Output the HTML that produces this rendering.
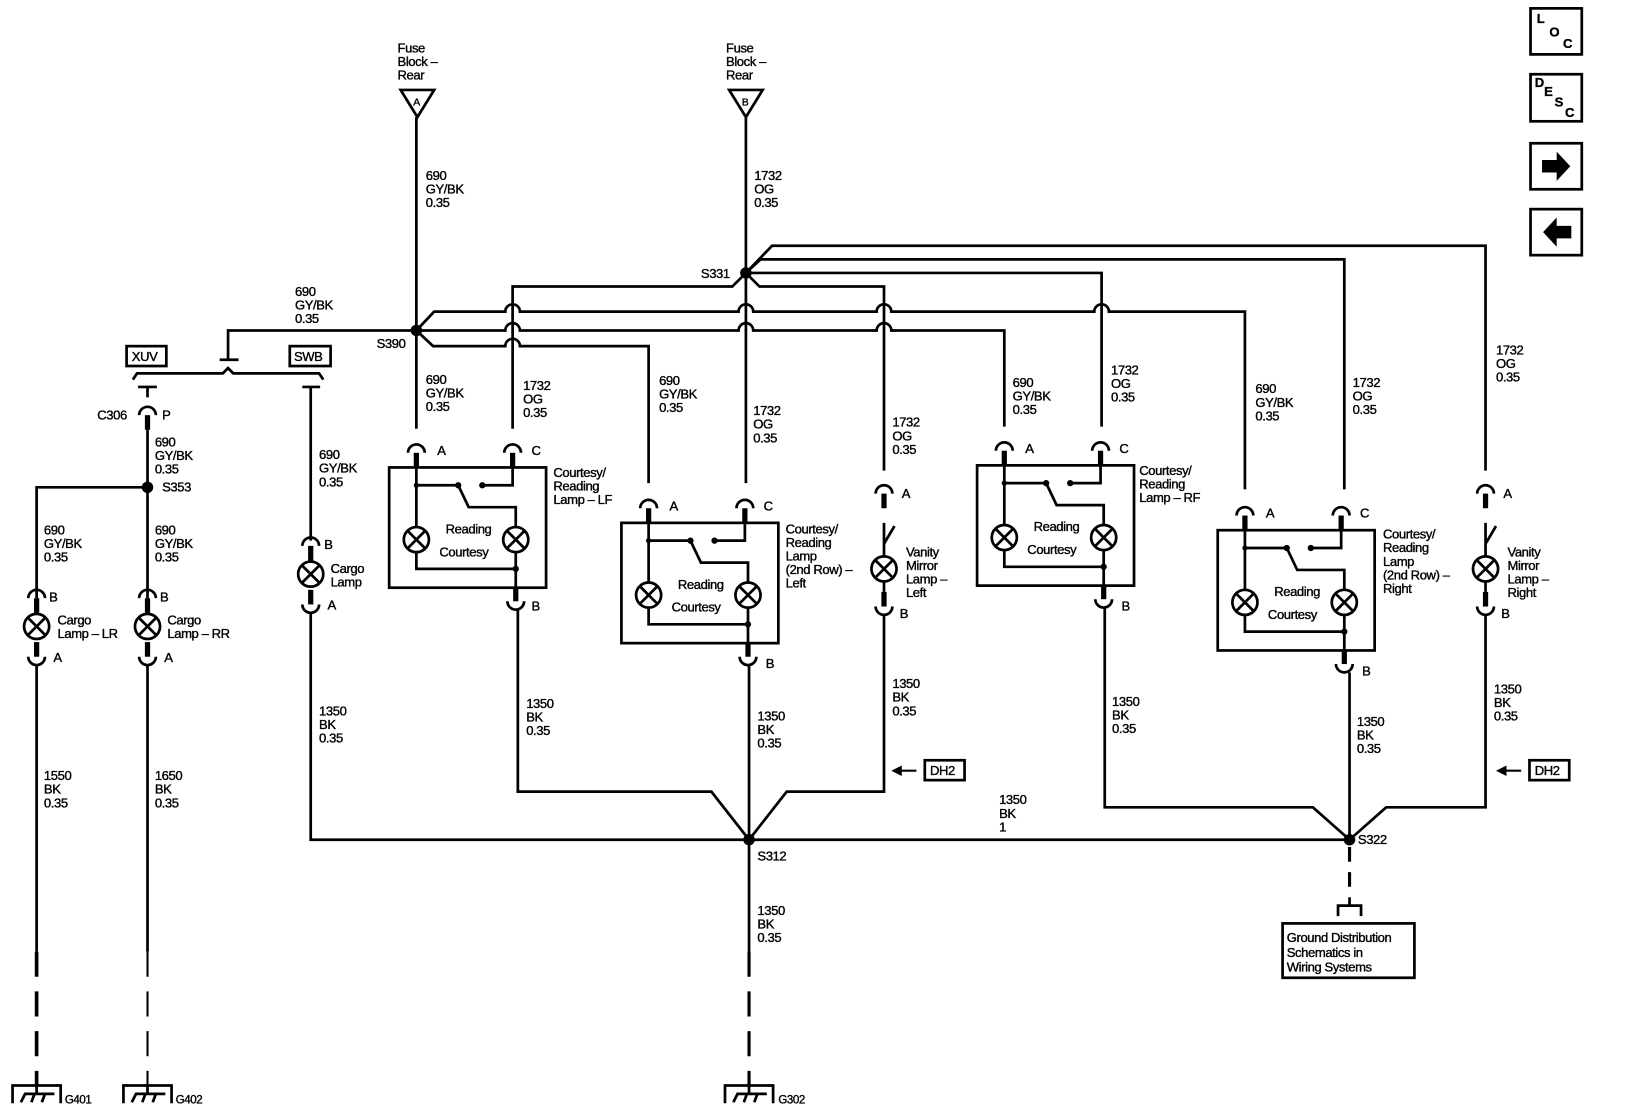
<!DOCTYPE html>
<html><head><meta charset="utf-8"><style>
html,body{margin:0;padding:0;background:#fff;}
svg{display:block;}
text{font-family:"Liberation Sans",Arial,sans-serif;font-size:12.5px;fill:#000;stroke:#000;stroke-width:0.35;letter-spacing:-0.4px;}
.w{fill:none;stroke:#000;stroke-width:2.6;}
.t{fill:none;stroke:#000;stroke-width:2;}
.s{stroke:#000;stroke-width:5;}
</style></head><body>
<svg width="1632" height="1120" viewBox="0 0 1560 1071" preserveAspectRatio="none" xmlns="http://www.w3.org/2000/svg">
<defs>
<g id="lamp"><circle r="12" fill="#fff" stroke="#000" stroke-width="2.6"/><path d="M-8.5 -8.5L8.5 8.5M8.5 -8.5L-8.5 8.5" stroke="#000" stroke-width="2.6"/></g>
<g id="fc"><path d="M-8 8 A8 8 0 0 1 8 8" class="w"/><line x1="0" y1="8" x2="0" y2="22" class="s"/></g>
<g id="mc"><line x1="0" y1="-14" x2="0" y2="0" class="s"/><path d="M-8 0 A8 8 0 0 0 8 0" class="w"/></g>
<g id="box">
<rect x="-26" y="0" width="150" height="115" class="w"/>
<use href="#fc" x="0" y="-22"/><use href="#fc" x="92" y="-22"/>
<path d="M0 0V57M0 81V97H95M0 17H40M40 17L50 38H95V57M95 81V115M63 17H92V0" class="w"/>
<circle cx="0" cy="17" r="2.5"/><circle cx="40" cy="17" r="3"/><circle cx="63" cy="17" r="3"/><circle cx="95" cy="97" r="3"/>
<use href="#lamp" x="0" y="69"/><use href="#lamp" x="95" y="69"/>
<use href="#mc" x="95" y="128"/>
</g>
</defs>

<!-- right icons -->
<rect x="1463" y="8" width="49" height="44" class="w"/>
<text x="1469" y="22" style="font-weight:bold">L</text><text x="1481" y="35" style="font-weight:bold">O</text><text x="1494" y="46" style="font-weight:bold">C</text>
<rect x="1463" y="71" width="49" height="45" class="w"/>
<text x="1467" y="83" style="font-weight:bold">D</text><text x="1476" y="92" style="font-weight:bold">E</text><text x="1486" y="102" style="font-weight:bold">S</text><text x="1496" y="112" style="font-weight:bold">C</text>
<rect x="1463" y="137" width="49" height="44" class="w"/>
<path d="M1474 153H1488V145L1501 159L1488 173V165H1474Z"/>
<rect x="1463" y="200" width="49" height="44" class="w"/>
<path d="M1502 216H1488V208L1475 222L1488 236V228H1502Z"/>

<!-- fuses -->
<text x="380" y="50">Fuse</text><text x="380" y="63">Block –</text><text x="380" y="76">Rear</text>
<path d="M383 86H415L399 112Z" class="w"/><text x="395" y="101" style="font-size:10px">A</text>
<text x="694" y="50">Fuse</text><text x="694" y="63">Block –</text><text x="694" y="76">Rear</text>
<path d="M697 86H729L713 112Z" class="w"/><text x="709" y="101" style="font-size:10px">B</text>

<!-- main verticals -->
<path d="M398 112V410M713 112V462" class="w"/>
<circle cx="398" cy="316" r="5.5"/><circle cx="713" cy="261" r="5.5"/>

<!-- S390 branches -->
<path d="M398 316L415 298H483A7 7 0 0 1 497 298H706A7 7 0 0 1 720 298H838A7 7 0 0 1 852 298H1046A7 7 0 0 1 1060 298H1190V468" class="w"/>
<path d="M398 316H483A7 7 0 0 1 497 316H706A7 7 0 0 1 720 316H838A7 7 0 0 1 852 316H960V408" class="w"/>
<path d="M398 316L414 331H483A7 7 0 0 1 497 331H620V462" class="w"/>
<path d="M398 316H218V344M210 344H228" class="w"/>
<!-- S331 branches -->
<path d="M713 261L738 235H1420V450" class="w"/>
<path d="M713 261L727 248H1285V468" class="w"/>
<path d="M713 261H1053V408" class="w"/>
<path d="M713 261L726 274H845V450" class="w"/>
<path d="M713 261L700 274H490V410" class="w"/>

<!-- XUV/SWB -->
<rect x="121" y="331" width="38" height="19" class="w"/><text x="126" y="345">XUV</text>
<rect x="277" y="331" width="39" height="19" class="w"/><text x="281" y="345">SWB</text>
<path d="M127 363L131 357H213L218 352L223 357H305L309 363" class="w"/>
<path d="M132 370H150M141 370V380M289 370H306M297 370V517" class="w"/>
<use href="#fc" x="141" y="389"/>
<text x="93" y="401">C306</text><text x="155" y="401">P</text>
<path d="M141 411V572" class="w"/>
<circle cx="141" cy="466" r="5.5"/><text x="155" y="470">S353</text>
<path d="M141 466H35V572" class="w"/>

<!-- Cargo lamps -->
<use href="#fc" x="35" y="564"/><use href="#lamp" x="35" y="599"/><use href="#mc" x="35" y="628"/>
<text x="47" y="575">B</text><text x="51" y="633">A</text>
<text x="55" y="597">Cargo</text><text x="55" y="610">Lamp – LR</text>
<use href="#fc" x="141" y="564"/><use href="#lamp" x="141" y="599"/><use href="#mc" x="141" y="628"/>
<text x="153" y="575">B</text><text x="157" y="633">A</text>
<text x="160" y="597">Cargo</text><text x="160" y="610">Lamp – RR</text>
<use href="#fc" x="297" y="514"/><use href="#lamp" x="297" y="549"/><use href="#mc" x="297" y="578"/>
<text x="310" y="525">B</text><text x="313" y="583">A</text>
<text x="316" y="548">Cargo</text><text x="316" y="561">Lamp</text>

<path d="M35 636V910M141 636V910" class="w"/>
<path d="M35 910V1037" stroke="#000" stroke-width="3.5" stroke-dasharray="24 14"/>
<path d="M141 910V1037" stroke="#000" stroke-width="2" stroke-dasharray="24 14"/>

<!-- boxes -->
<g transform="translate(398 447)"><use href="#box"/><text x="28" y="63">Reading</text><text x="22" y="85">Courtesy</text><text x="20" y="-12">A</text><text x="110" y="-12">C</text><text x="110" y="137">B</text></g>
<g transform="translate(620 500)"><use href="#box"/><text x="28" y="63">Reading</text><text x="22" y="85">Courtesy</text><text x="20" y="-12">A</text><text x="110" y="-12">C</text><text x="112" y="139">B</text></g>
<g transform="translate(960 445)"><use href="#box"/><text x="28" y="63">Reading</text><text x="22" y="85">Courtesy</text><text x="20" y="-12">A</text><text x="110" y="-12">C</text><text x="112" y="139">B</text></g>
<g transform="translate(1190 507)"><use href="#box"/><text x="28" y="63">Reading</text><text x="22" y="85">Courtesy</text><text x="20" y="-12">A</text><text x="110" y="-12">C</text><text x="112" y="139">B</text></g>

<text x="529" y="456">Courtesy/</text><text x="529" y="469">Reading</text><text x="529" y="482">Lamp – LF</text>
<text x="751" y="510">Courtesy/</text><text x="751" y="523">Reading</text><text x="751" y="536">Lamp</text><text x="751" y="549">(2nd Row) –</text><text x="751" y="562">Left</text>
<text x="1089" y="454">Courtesy/</text><text x="1089" y="467">Reading</text><text x="1089" y="480">Lamp – RF</text>
<text x="1322" y="515">Courtesy/</text><text x="1322" y="528">Reading</text><text x="1322" y="541">Lamp</text><text x="1322" y="554">(2nd Row) –</text><text x="1322" y="567">Right</text>

<!-- vanity -->
<use href="#fc" x="845" y="464"/><path d="M845 500V520L855 503M845 517V532M845 556V566" class="w"/><use href="#lamp" x="845" y="544"/><use href="#mc" x="845" y="580"/>
<text x="862" y="476">A</text><text x="860" y="591">B</text>
<text x="866" y="532">Vanity</text><text x="866" y="545">Mirror</text><text x="866" y="558">Lamp –</text><text x="866" y="571">Left</text>
<use href="#fc" x="1420" y="464"/><path d="M1420 500V520L1430 503M1420 517V532M1420 556V566" class="w"/><use href="#lamp" x="1420" y="544"/><use href="#mc" x="1420" y="580"/>
<text x="1437" y="476">A</text><text x="1435" y="591">B</text>
<text x="1441" y="532">Vanity</text><text x="1441" y="545">Mirror</text><text x="1441" y="558">Lamp –</text><text x="1441" y="571">Right</text>

<!-- grounds wiring -->
<path d="M495 583V757H680L716 803L752 757H845V588" class="w"/>
<path d="M716 636V910" class="w"/>
<path d="M297 586V803H1290" class="w"/>
<path d="M1056 581V772H1255L1290 803L1325 772H1420V588" class="w"/>
<path d="M1290 643V803" class="w"/>
<circle cx="716" cy="803" r="5.5"/><circle cx="1290" cy="803" r="5.5"/>
<text x="724" y="823">S312</text><text x="1298" y="807">S322</text>
<path d="M716 910V1037" stroke="#000" stroke-width="3" stroke-dasharray="24 14"/>
<path d="M1290 810V850" stroke="#000" stroke-width="3" stroke-dasharray="14 10"/>
<path d="M1290 858V866M1279 876V866H1301V876" class="w"/>
<rect x="1226" y="883" width="126" height="52" class="w"/>
<text x="1230" y="901">Ground Distribution</text><text x="1230" y="915">Schematics in</text><text x="1230" y="929">Wiring Systems</text>

<!-- DH2 -->
<rect x="884" y="727" width="38" height="19" class="w"/><text x="889" y="741">DH2</text>
<path d="M876 737H860" class="t"/><path d="M852 737L862 732V742Z"/>
<rect x="1462" y="727" width="38" height="19" class="w"/><text x="1467" y="741">DH2</text>
<path d="M1454 737H1438" class="t"/><path d="M1430 737L1440 732V742Z"/>

<!-- ground symbols -->
<g class="w"><path d="M12 1055V1038H58V1055M35 1037V1046M20 1054L24 1046H52M33 1046L30 1054M43 1046L40 1054"/></g>
<text x="62" y="1055" style="font-size:11px">G401</text>
<g class="w"><path d="M118 1055V1038H164V1055M141 1037V1046M126 1054L130 1046H158M139 1046L136 1054M149 1046L146 1054"/></g>
<text x="168" y="1055" style="font-size:11px">G402</text>
<g class="w"><path d="M693 1055V1038H739V1055M716 1037V1046M701 1054L705 1046H733M714 1046L711 1054M724 1046L721 1054"/></g>
<text x="744" y="1055" style="font-size:11px">G302</text>

<!-- wire labels -->
<g>
<text x="407" y="172">690</text><text x="407" y="185">GY/BK</text><text x="407" y="198">0.35</text>
<text x="721" y="172">1732</text><text x="721" y="185">OG</text><text x="721" y="198">0.35</text>
<text x="282" y="283">690</text><text x="282" y="296">GY/BK</text><text x="282" y="309">0.35</text>
<text x="670" y="266">S331</text><text x="360" y="333">S390</text>
<text x="407" y="367">690</text><text x="407" y="380">GY/BK</text><text x="407" y="393">0.35</text>
<text x="500" y="373">1732</text><text x="500" y="386">OG</text><text x="500" y="399">0.35</text>
<text x="630" y="368">690</text><text x="630" y="381">GY/BK</text><text x="630" y="394">0.35</text>
<text x="720" y="397">1732</text><text x="720" y="410">OG</text><text x="720" y="423">0.35</text>
<text x="853" y="408">1732</text><text x="853" y="421">OG</text><text x="853" y="434">0.35</text>
<text x="968" y="370">690</text><text x="968" y="383">GY/BK</text><text x="968" y="396">0.35</text>
<text x="1062" y="358">1732</text><text x="1062" y="371">OG</text><text x="1062" y="384">0.35</text>
<text x="1200" y="376">690</text><text x="1200" y="389">GY/BK</text><text x="1200" y="402">0.35</text>
<text x="1293" y="370">1732</text><text x="1293" y="383">OG</text><text x="1293" y="396">0.35</text>
<text x="1430" y="339">1732</text><text x="1430" y="352">OG</text><text x="1430" y="365">0.35</text>
<text x="148" y="427">690</text><text x="148" y="440">GY/BK</text><text x="148" y="453">0.35</text>
<text x="42" y="511">690</text><text x="42" y="524">GY/BK</text><text x="42" y="537">0.35</text>
<text x="148" y="511">690</text><text x="148" y="524">GY/BK</text><text x="148" y="537">0.35</text>
<text x="305" y="439">690</text><text x="305" y="452">GY/BK</text><text x="305" y="465">0.35</text>
<text x="305" y="684">1350</text><text x="305" y="697">BK</text><text x="305" y="710">0.35</text>
<text x="503" y="677">1350</text><text x="503" y="690">BK</text><text x="503" y="703">0.35</text>
<text x="724" y="689">1350</text><text x="724" y="702">BK</text><text x="724" y="715">0.35</text>
<text x="853" y="658">1350</text><text x="853" y="671">BK</text><text x="853" y="684">0.35</text>
<text x="1063" y="675">1350</text><text x="1063" y="688">BK</text><text x="1063" y="701">0.35</text>
<text x="1297" y="694">1350</text><text x="1297" y="707">BK</text><text x="1297" y="720">0.35</text>
<text x="1428" y="663">1350</text><text x="1428" y="676">BK</text><text x="1428" y="689">0.35</text>
<text x="955" y="769">1350</text><text x="955" y="782">BK</text><text x="955" y="795">1</text>
<text x="42" y="746">1550</text><text x="42" y="759">BK</text><text x="42" y="772">0.35</text>
<text x="148" y="746">1650</text><text x="148" y="759">BK</text><text x="148" y="772">0.35</text>
<text x="724" y="875">1350</text><text x="724" y="888">BK</text><text x="724" y="901">0.35</text>
</g>
</svg>
</body></html>
